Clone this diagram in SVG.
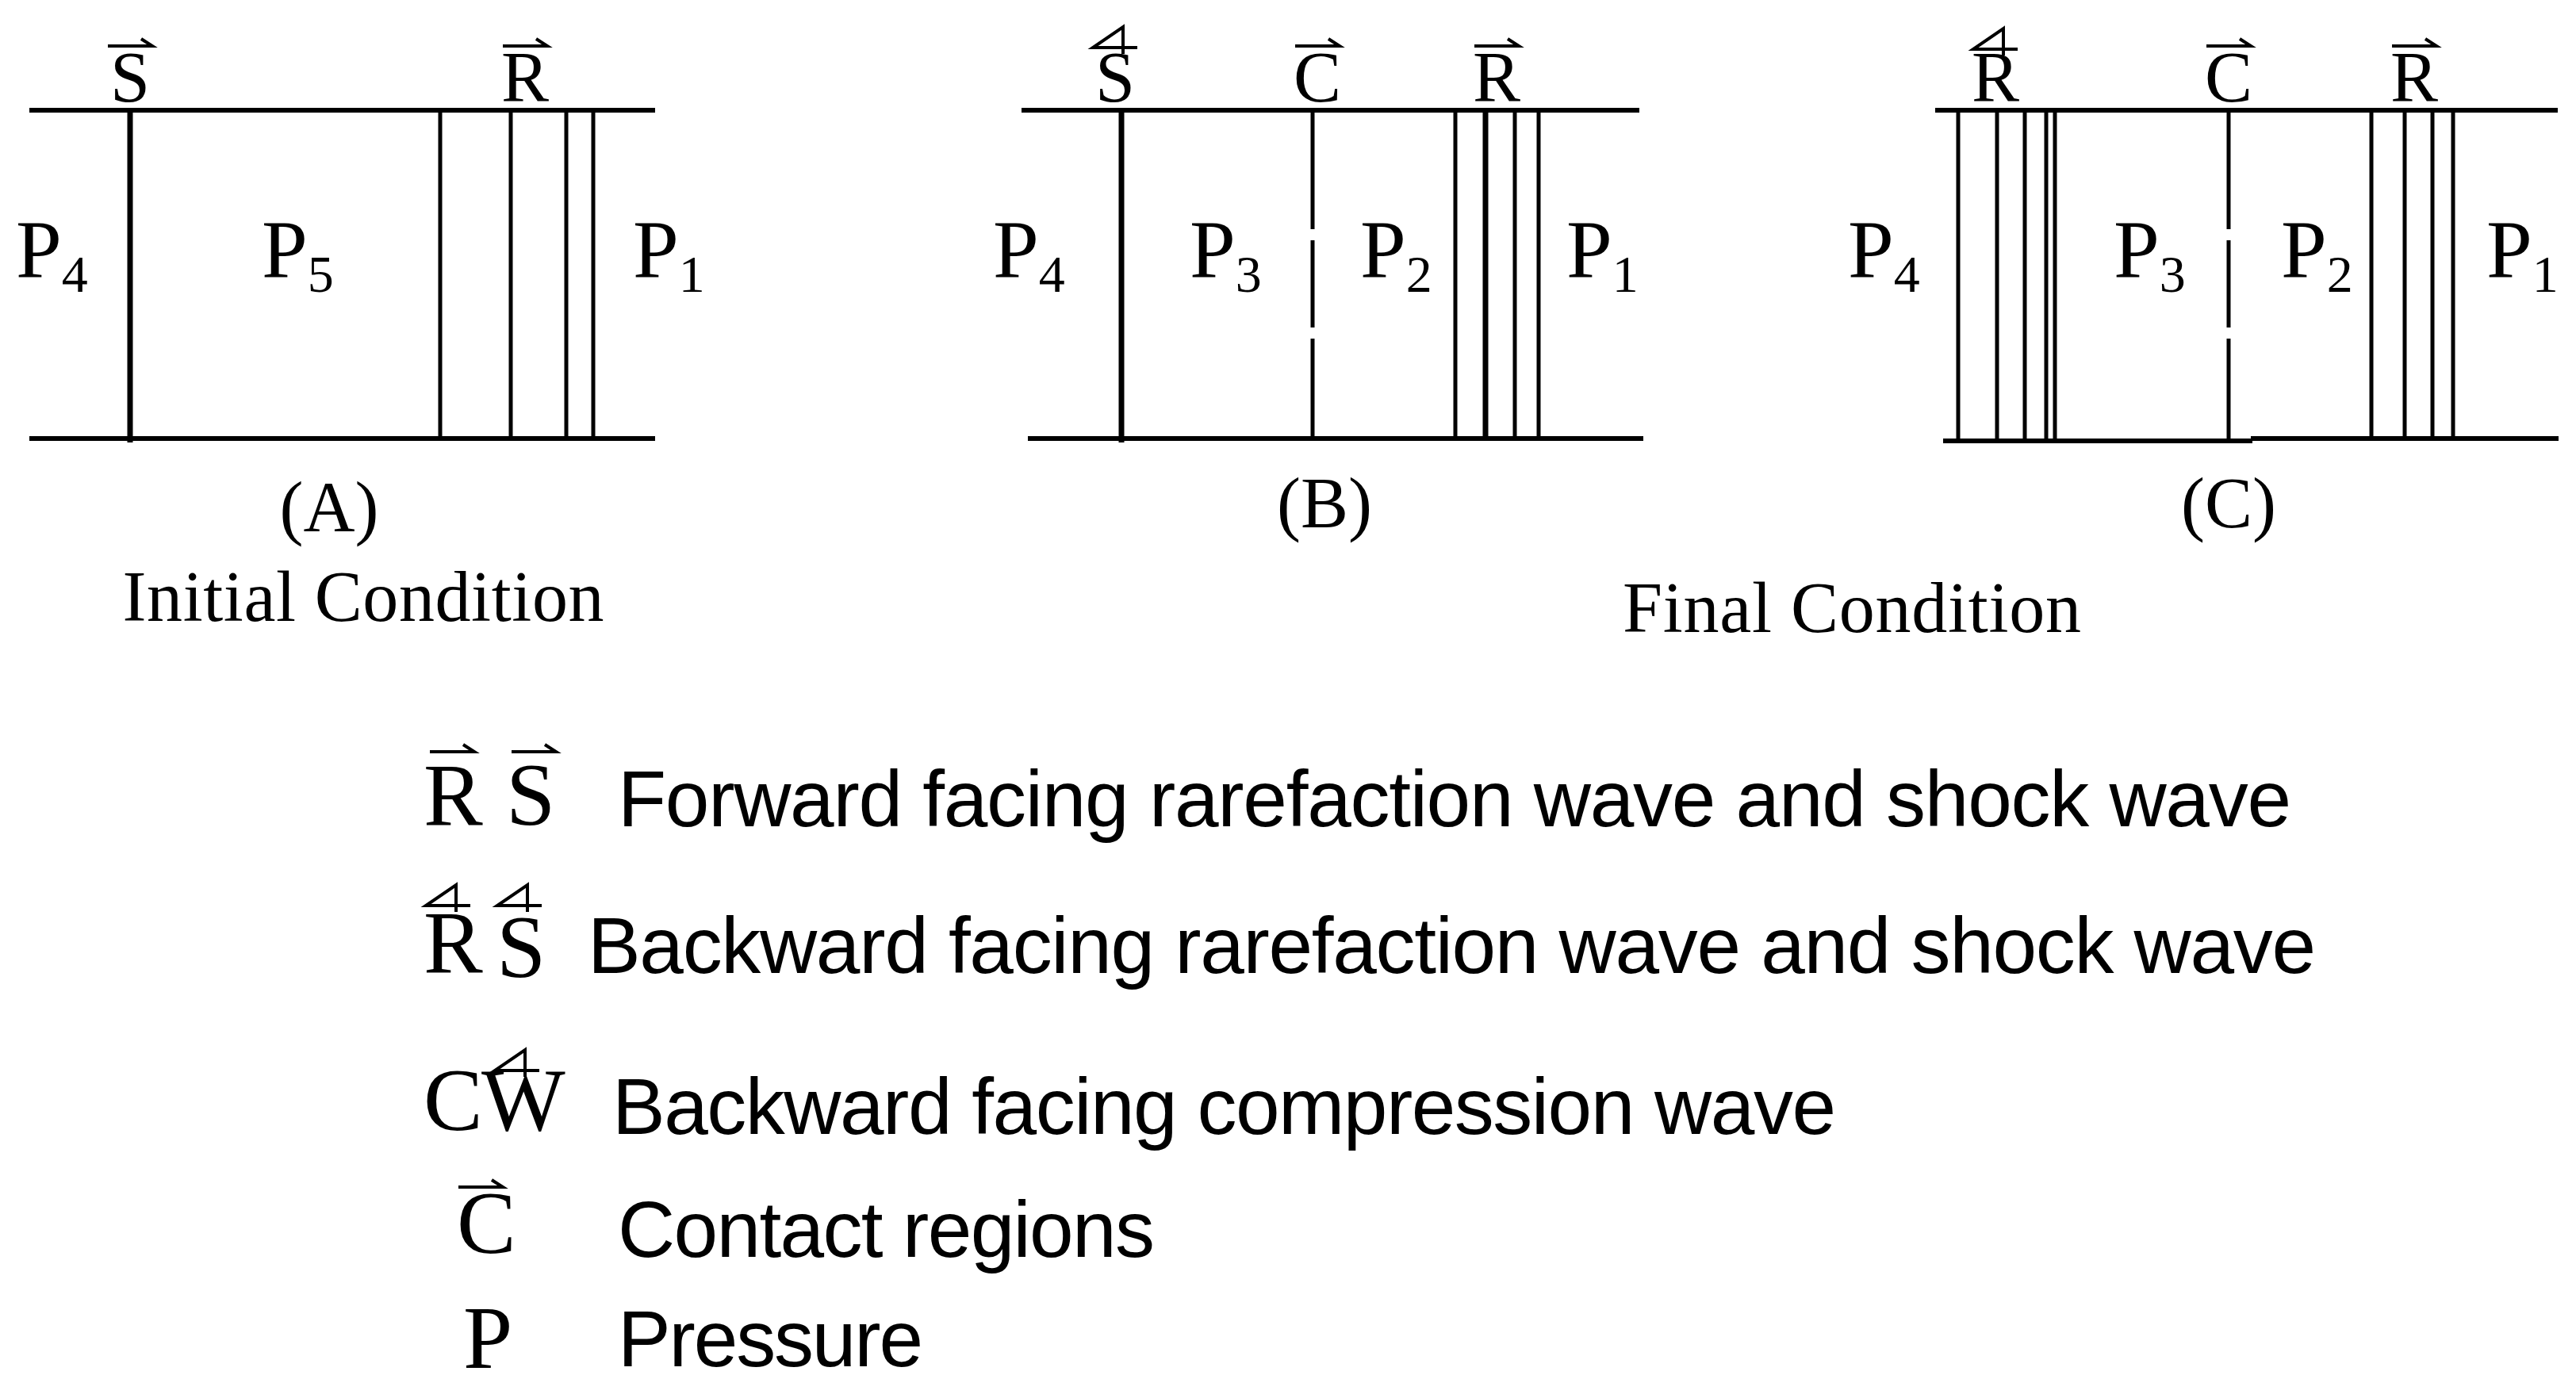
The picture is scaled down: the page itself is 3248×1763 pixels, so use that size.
<svg xmlns="http://www.w3.org/2000/svg" width="3248" height="1763" viewBox="0 0 3248 1763">
<style>
.h{stroke:#000;stroke-width:6;fill:none}
.v{stroke:#000;stroke-width:5;fill:none}
.vt{stroke:#000;stroke-width:7;fill:none}
.d{stroke:#000;stroke-width:5;fill:none;stroke-dasharray:150 14 110 14}
.ar{stroke:#000;stroke-width:4;fill:none}
.s{font-family:"Liberation Serif",serif;font-size:90px;text-anchor:middle}
.p{font-family:"Liberation Serif",serif;font-size:104px}
.sub{font-size:66px}
.cap{font-family:"Liberation Serif",serif;font-size:90px;text-anchor:middle}
.lg{font-family:"Liberation Sans",Arial,sans-serif;font-size:100px}
.ls{font-family:"Liberation Serif",serif;font-size:112px}
</style>
<defs>
<path id="fw" class="ar" d="M-28 0 H28 L14 -9"/>
<path id="bw" class="ar" d="M28 0 H-28 L10 -26 V8"/>
</defs>
<rect width="3248" height="1763" fill="#fff"/>
<g id="connectors">
<!-- Panel A -->
<line class="h" x1="37" y1="139" x2="826" y2="139"/>
<line class="h" x1="37" y1="553" x2="826" y2="553"/>
<line class="vt" x1="164" y1="139" x2="164" y2="558"/>
<line class="v" x1="555" y1="139" x2="555" y2="553"/>
<line class="v" x1="644" y1="139" x2="644" y2="553"/>
<line class="v" x1="714" y1="139" x2="714" y2="553"/>
<line class="v" x1="748" y1="139" x2="748" y2="553"/>
<!-- Panel B -->
<line class="h" x1="1288" y1="139" x2="2067" y2="139"/>
<line class="h" x1="1296" y1="553" x2="2072" y2="553"/>
<line class="vt" x1="1414" y1="139" x2="1414" y2="558"/>
<line class="d" x1="1655" y1="139" x2="1655" y2="553"/>
<line class="v" x1="1835" y1="139" x2="1835" y2="553"/>
<line class="vt" x1="1873" y1="139" x2="1873" y2="553"/>
<line class="v" x1="1910" y1="139" x2="1910" y2="553"/>
<line class="v" x1="1940" y1="139" x2="1940" y2="553"/>
<!-- Panel C -->
<line class="h" x1="2440" y1="139" x2="3225" y2="139"/>
<line class="h" x1="2450" y1="556" x2="2840" y2="556"/>
<line class="h" x1="2838" y1="553" x2="3226" y2="553"/>
<line class="v" x1="2469" y1="139" x2="2469" y2="556"/>
<line class="v" x1="2518" y1="139" x2="2518" y2="556"/>
<line class="v" x1="2553" y1="139" x2="2553" y2="556"/>
<line class="v" x1="2580" y1="139" x2="2580" y2="556"/>
<line class="v" x1="2591" y1="139" x2="2591" y2="556"/>
<line class="d" x1="2810" y1="139" x2="2810" y2="556"/>
<line class="v" x1="2990" y1="139" x2="2990" y2="553"/>
<line class="v" x1="3032" y1="139" x2="3032" y2="553"/>
<line class="v" x1="3067" y1="139" x2="3067" y2="553"/>
<line class="v" x1="3093" y1="139" x2="3093" y2="553"/>
</g>
<g id="panelA">
<use href="#fw" x="164" y="58"/><text class="s" x="164" y="128">S</text>
<use href="#fw" x="662" y="58"/><text class="s" x="662" y="128">R</text>
<text class="p" x="20" y="350">P<tspan class="sub" dy="18">4</tspan></text>
<text class="p" x="330" y="350">P<tspan class="sub" dy="18">5</tspan></text>
<text class="p" x="798" y="350">P<tspan class="sub" dy="18">1</tspan></text>
<text class="cap" x="415" y="670">(A)</text>
<text class="cap" x="458" y="783" textLength="607">Initial Condition</text>
</g>
<g id="panelB">
<use href="#bw" x="1406" y="60"/><text class="s" x="1406" y="128">S</text>
<use href="#fw" x="1661" y="58"/><text class="s" x="1661" y="128">C</text>
<use href="#fw" x="1887" y="58"/><text class="s" x="1887" y="128">R</text>
<text class="p" x="1252" y="350">P<tspan class="sub" dy="18">4</tspan></text>
<text class="p" x="1500" y="350">P<tspan class="sub" dy="18">3</tspan></text>
<text class="p" x="1715" y="350">P<tspan class="sub" dy="18">2</tspan></text>
<text class="p" x="1975" y="350">P<tspan class="sub" dy="18">1</tspan></text>
<text class="cap" x="1670" y="665">(B)</text>
</g>
<g id="panelC">
<use href="#bw" x="2516" y="62"/><text class="s" x="2516" y="128">R</text>
<use href="#fw" x="2810" y="58"/><text class="s" x="2810" y="128">C</text>
<use href="#fw" x="3044" y="58"/><text class="s" x="3044" y="128">R</text>
<text class="p" x="2330" y="350">P<tspan class="sub" dy="18">4</tspan></text>
<text class="p" x="2665" y="350">P<tspan class="sub" dy="18">3</tspan></text>
<text class="p" x="2876" y="350">P<tspan class="sub" dy="18">2</tspan></text>
<text class="p" x="3135" y="350">P<tspan class="sub" dy="18">1</tspan></text>
<text class="cap" x="2810" y="665">(C)</text>
<text class="cap" x="2335" y="797" textLength="578">Final Condition</text>
</g>
<g id="legend">
<use href="#fw" x="570" y="948"/><text class="ls" x="534" y="1040">R</text>
<use href="#fw" x="673" y="948"/><text class="ls" x="638" y="1040">S</text>
<text class="lg" x="779" y="1042" textLength="2110">Forward facing rarefaction wave and shock wave</text>
<use href="#bw" x="565" y="1142"/><text class="ls" x="534" y="1226">R</text>
<use href="#bw" x="655" y="1142"/><text class="ls" x="626" y="1232">S</text>
<text class="lg" x="741" y="1227" textLength="2179">Backward facing rarefaction wave and shock wave</text>
<use href="#bw" x="652" y="1350"/><text class="ls" x="534" y="1425">C</text>
<text class="ls" x="607" y="1425">W</text>
<text class="lg" x="772" y="1430" textLength="1543">Backward facing compression wave</text>
<use href="#fw" x="606" y="1497"/><text class="ls" x="576" y="1580">C</text>
<text class="lg" x="779" y="1585" textLength="677">Contact regions</text>
<text class="ls" x="584" y="1725">P</text>
<text class="lg" x="779" y="1723" textLength="385">Pressure</text>
</g>
</svg>
